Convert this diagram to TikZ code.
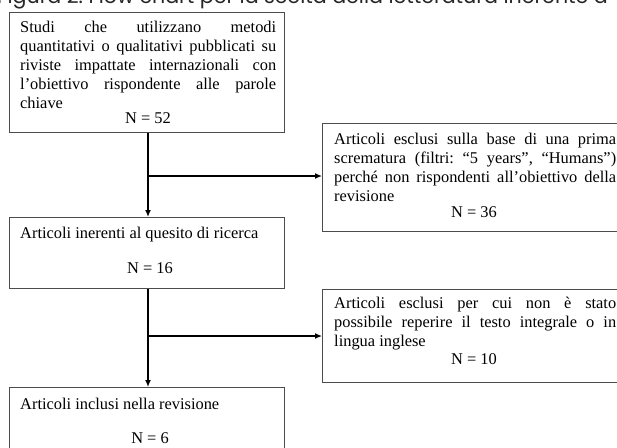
\documentclass[tikz,border=0pt]{standalone}
\usepackage{fontspec}
\setmainfont{Liberation Serif}
\newfontfamily\titlefont{Poppins}
\usetikzlibrary{arrows.meta}
\frenchspacing
\tikzset{
  box/.style={draw=black!70, line width=0.8pt, inner sep=0pt, anchor=north west},
  txt/.style={inner sep=0pt, anchor=base west, font=\fontsize{16.4}{19.2}\selectfont},
  ntxt/.style={inner sep=0pt, anchor=base, font=\fontsize{16.4}{19.2}\selectfont},
  conn/.style={line width=1.3pt, -{Latex[length=7pt,width=6pt]}},
}
\begin{document}
\begin{tikzpicture}[x=1pt,y=-1pt]
\useasboundingbox (0,0) rectangle (617,447);
\clip (0,0) rectangle (617,447);
\node[inner sep=0pt, anchor=base west, font=\titlefont\fontsize{20.6}{22}\selectfont, text=black!85] (title) at (-3,4) {Figura 2. Flow chart per la scelta della letteratura inerente a};
% boxes
\node[box, minimum width=275pt, minimum height=120pt] (b1) at (9,12) {};
\node[box, minimum width=320pt, minimum height=108pt] (r1) at (322,123) {};
\node[box, minimum width=275pt, minimum height=71pt] (b2) at (9,217) {};
\node[box, minimum width=320pt, minimum height=93pt] (r2) at (322,289) {};
\node[box, minimum width=275pt, minimum height=80pt] (b3) at (9,387) {};
% texts
\node[txt, text width=256pt, align=justify] (t1) at (20,32) {\hyphenpenalty=10000\hbadness=10000\hfuzz=20pt Studi che utilizzano metodi\linebreak quantitativi o qualitativi pubblicati su\linebreak riviste impattate internazionali con\linebreak l’obiettivo rispondente alle parole\linebreak chiave};
\node[ntxt] (n1) at (148,123) {N = 52};
\node[txt, text width=282pt, align=justify] (t2) at (334,144) {\hyphenpenalty=10000\hbadness=10000\hfuzz=20pt Articoli esclusi sulla base di una prima\linebreak scrematura (filtri: “5 years”, “Humans”)\linebreak perché non rispondenti all’obiettivo della\linebreak revisione};
\node[ntxt] (n2) at (474,217) {N = 36};
\node[txt] (t3) at (20,238) {Articoli inerenti al quesito di ricerca};
\node[ntxt] (n3) at (150,273) {N = 16};
\node[txt, text width=282pt, align=justify] (t4) at (334,308) {\hyphenpenalty=10000\hbadness=10000\hfuzz=20pt Articoli esclusi per cui non è stato\linebreak possibile reperire il testo integrale o in\linebreak lingua inglese};
\node[ntxt] (n4) at (474,364) {N = 10};
\node[txt] (t5) at (20,409) {Articoli inclusi nella revisione};
\node[ntxt] (n5) at (150,443) {N = 6};
% connectors
\coordinate (j1) at (148,176);
\coordinate (j2) at (148,336);
\draw[conn] (b1.south -| j1) -- (b2.north -| j1);
\draw[conn] (j1) -- (j1 -| r1.west);
\draw[conn] (b2.south -| j2) -- (b3.north -| j2);
\draw[conn] (j2) -- (j2 -| r2.west);
\end{tikzpicture}
\end{document}
